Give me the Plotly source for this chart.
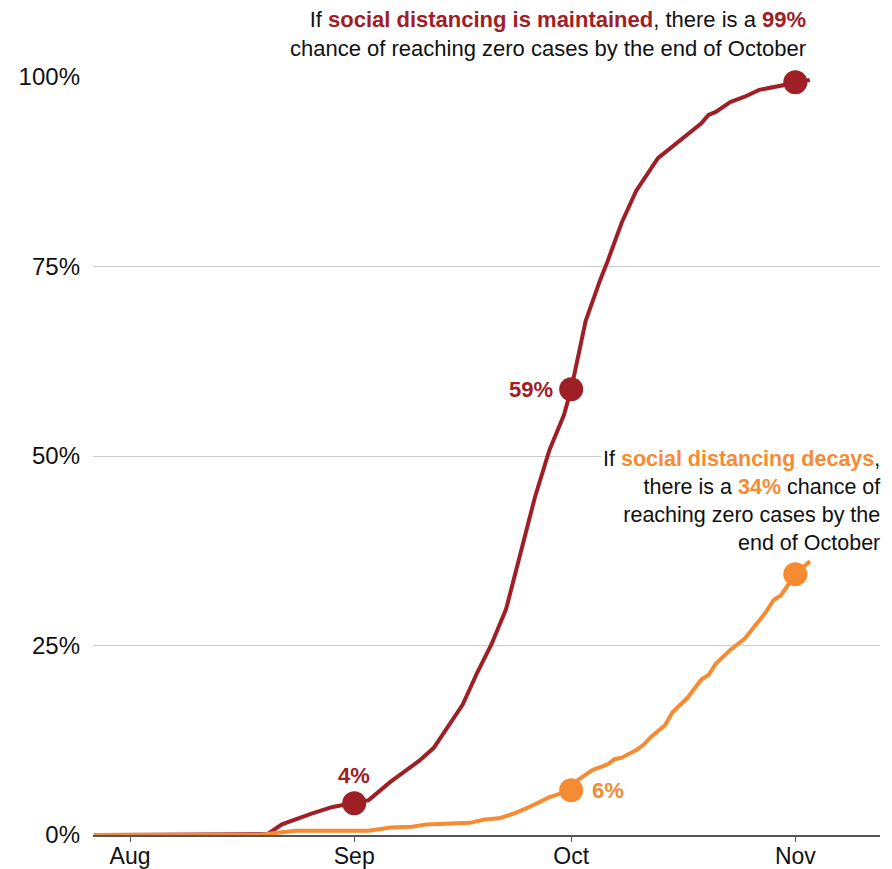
import plotly.graph_objects as go

RED = "#9E2026"
ORANGE = "#F68B33"

# Maintained scenario (red)
red_dates = ["2020-07-27", "2020-08-19", "2020-08-20", "2020-08-22", "2020-08-24", "2020-08-26",
             "2020-08-29", "2020-09-01", "2020-09-03", "2020-09-06", "2020-09-08", "2020-09-10",
             "2020-09-12", "2020-09-14", "2020-09-16", "2020-09-18", "2020-09-20", "2020-09-22",
             "2020-09-24", "2020-09-26", "2020-09-28", "2020-09-30", "2020-10-01", "2020-10-03",
             "2020-10-05", "2020-10-06", "2020-10-08", "2020-10-10", "2020-10-13", "2020-10-16",
             "2020-10-19", "2020-10-20", "2020-10-21", "2020-10-23", "2020-10-25", "2020-10-27",
             "2020-10-29", "2020-11-01", "2020-11-03"]
red_vals = [0, 0, 0.1, 1.4, 2.1, 2.8,
            3.7, 4.2, 4.6, 7.0, 8.4, 9.8,
            11.5, 14.3, 17.2, 21.4, 25.2, 29.8,
            37.0, 44.6, 50.8, 55.4, 58.8, 67.8,
            73.2, 75.6, 80.8, 85.0, 89.3, 91.6,
            93.9, 95.0, 95.4, 96.7, 97.4, 98.3,
            98.7, 99.3, 99.6]

# Decays scenario (orange)
orange_dates = ["2020-07-27", "2020-08-19", "2020-08-21", "2020-08-24", "2020-09-03", "2020-09-06",
                "2020-09-09", "2020-09-11", "2020-09-17", "2020-09-19", "2020-09-21", "2020-09-23",
                "2020-09-25", "2020-09-28", "2020-10-01", "2020-10-02", "2020-10-04", "2020-10-06",
                "2020-10-07", "2020-10-08", "2020-10-10", "2020-10-11", "2020-10-12", "2020-10-14",
                "2020-10-15", "2020-10-17", "2020-10-19", "2020-10-20", "2020-10-21", "2020-10-23",
                "2020-10-25", "2020-10-28", "2020-10-29", "2020-10-30", "2020-11-01", "2020-11-03"]
orange_vals = [0, 0, 0.25, 0.55, 0.55, 1.0,
               1.1, 1.4, 1.6, 2.05, 2.2, 2.8,
               3.6, 5.0, 5.9, 7.3, 8.6, 9.3,
               10.0, 10.2, 11.2, 11.9, 12.9, 14.5,
               16.2, 18.0, 20.5, 21.1, 22.6, 24.4,
               25.9, 29.5, 31.0, 31.6, 34.4, 36.1]

red_marker_dates = ["2020-09-01", "2020-10-01", "2020-11-01"]
red_marker_vals = [4.2, 58.8, 99.3]
orange_marker_dates = ["2020-10-01", "2020-11-01"]
orange_marker_vals = [5.9, 34.4]

x_tick_vals = ["2020-08-01", "2020-09-01", "2020-10-01", "2020-11-01"]
x_tick_text = ["Aug", "Sep", "Oct", "Nov"]
y_tick_vals = [0, 25, 50, 75, 100]
y_tick_text = ["0%", "25%", "50%", "75%", "100%"]

FONT = "Liberation Sans, Arial, Helvetica, sans-serif"

fig = go.Figure()
fig.add_trace(go.Scatter(x=red_dates, y=red_vals, mode="lines",
                         line=dict(color=RED, width=4), cliponaxis=False, hoverinfo="skip"))
fig.add_trace(go.Scatter(x=orange_dates, y=orange_vals, mode="lines",
                         line=dict(color=ORANGE, width=4), cliponaxis=False, hoverinfo="skip"))
fig.add_trace(go.Scatter(x=red_marker_dates, y=red_marker_vals, mode="markers",
                         marker=dict(color=RED, size=24), cliponaxis=False))
fig.add_trace(go.Scatter(x=orange_marker_dates, y=orange_marker_vals, mode="markers",
                         marker=dict(color=ORANGE, size=24), cliponaxis=False))

# point labels
fig.add_annotation(x=red_marker_dates[0], y=red_marker_vals[0], text="<b>4%</b>", showarrow=False,
                   xanchor="center", yanchor="middle", yshift=28,
                   font=dict(color=RED, size=22, family=FONT))
fig.add_annotation(x=red_marker_dates[1], y=red_marker_vals[1], text="<b>59%</b>", showarrow=False,
                   xanchor="right", yanchor="middle", xshift=-16,
                   font=dict(color=RED, size=22, family=FONT))
fig.add_annotation(x=orange_marker_dates[0], y=orange_marker_vals[0], text="<b>6%</b>", showarrow=False,
                   xanchor="left", yanchor="middle", xshift=19,
                   font=dict(color=ORANGE, size=22, family=FONT))

fig.add_annotation(xref="paper", yref="paper", x=0.9085, y=1.0567,
                   xanchor="right", yanchor="middle", align="right", showarrow=False,
                   text=(f"If <b><span style='color:{RED}'>social distancing is maintained</span></b>, there is a "
                         f"<b><span style='color:{RED}'>99%</span></b><br>"
                         "chance of reaching zero cases by the end of October"),
                   font=dict(color="#111111", size=22, family=FONT))

fig.add_annotation(xref="paper", yref="paper", x=1.0025, y=0.4406,
                   xanchor="right", yanchor="middle", align="right", showarrow=False,
                   bgcolor="white",
                   text=(f"If <b><span style='color:{ORANGE}'>social distancing decays</span></b>,<br>"
                         f"there is a <b><span style='color:{ORANGE}'>34%</span></b> chance of<br>"
                         "reaching zero cases by the<br>end of October"),
                   font=dict(color="#111111", size=21.5, family=FONT))

fig.update_layout(
    width=884, height=861,
    margin=dict(l=85, r=12, t=69, b=34, autoexpand=False),
    paper_bgcolor="white", plot_bgcolor="white",
    showlegend=False,
    font=dict(family=FONT, size=24, color="#111111"),
)
fig.update_xaxes(
    range=["2020-07-26 21:00", "2020-11-12 17:00"],
    tickvals=x_tick_vals, ticktext=x_tick_text,
    showgrid=False, showline=True, linecolor="#555555", linewidth=1.5,
    ticks="outside", ticklen=5, tickcolor="#555555", tickwidth=1,
    zeroline=False, tickfont=dict(size=23), automargin=False, ticklabelstandoff=-5,
)
fig.update_yaxes(
    range=[0, 100], tickvals=y_tick_vals, ticktext=y_tick_text,
    showgrid=True, gridcolor="#cccccc", gridwidth=1,
    zeroline=False, showline=False, ticks="", ticklabelstandoff=12,
    tickfont=dict(size=24), automargin=False,
)

fig.write_html("out.html")
